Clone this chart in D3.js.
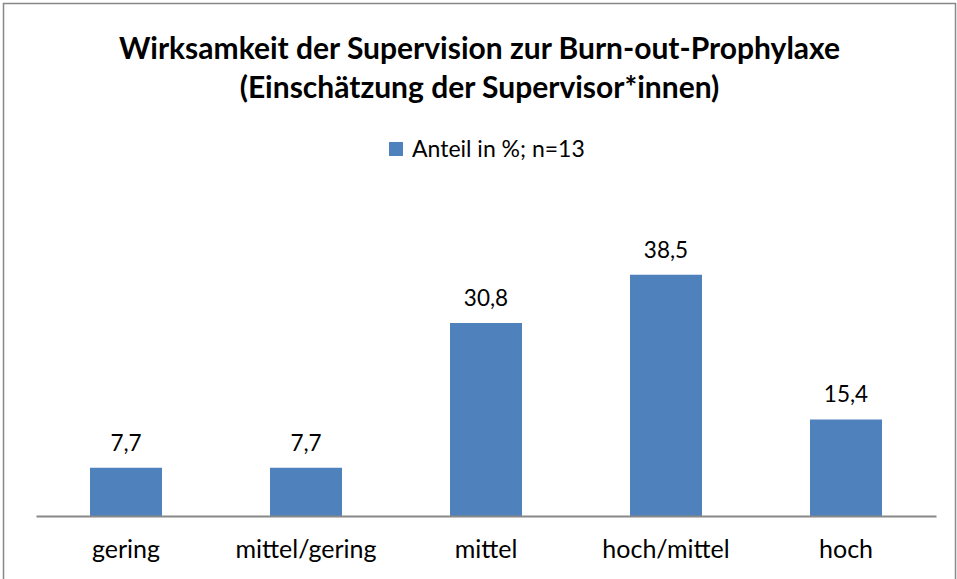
<!DOCTYPE html>
<html>
<head>
<meta charset="utf-8">
<script src="https://cdn.jsdelivr.net/npm/d3@7"></script>
<style>
  body { margin: 0; background: #fff; }
  text { font-family: Lato, "Open Sans", sans-serif; fill: #000; }
</style>
</head>
<body>
<svg id="chart"></svg>
<script>
var categories = ["gering", "mittel/gering", "mittel", "hoch/mittel", "hoch"];
var values = [7.7, 7.7, 30.8, 38.5, 15.4];
var seriesName = "Anteil in %; n=13";
var titleLines = ["Wirksamkeit der Supervision zur Burn-out-Prophylaxe",
                  "(Einschätzung der Supervisor*innen)"];

var width = 957, height = 579;
var barColor = "#4F81BD";

var svg = d3.select('#chart')
    .attr('width', width)
    .attr('height', height);

// chart frame
svg.append("rect")
    .attr("x", 3.5).attr("y", 3.5)
    .attr("width", width - 5).attr("height", height)
    .attr("fill", "none")
    .attr("stroke", "#888")
    .attr("stroke-width", 1.5);

var x = d3.scaleBand()
    .domain(categories)
    .range([36, 936])
    .paddingInner(0.6)
    .paddingOuter(0.3);

var y = d3.scaleLinear()
    .domain([0, 45])
    .range([516, 234]);

// title
svg.selectAll(".title")
    .data(titleLines)
  .enter().append("text")
    .attr("class", "title")
    .attr("x", width / 2 + 1)
    .attr("y", (d, i) => 59 + i * 39)
    .attr("text-anchor", "middle")
    .attr("font-size", "30px")
    .attr("font-weight", "bold")
    .text(d => d);

// legend
var legend = svg.append("g").attr("transform", "translate(389,142)");
legend.append("rect")
    .attr("width", 14).attr("height", 14)
    .attr("fill", barColor);
legend.append("text")
    .attr("x", 23).attr("y", 15)
    .attr("font-size", "23px")
    .text(seriesName);

// bars
svg.selectAll(".bar")
    .data(values)
  .enter().append("rect")
    .attr("class", "bar")
    .attr("x", (d, i) => x(categories[i]))
    .attr("y", d => y(d))
    .attr("width", x.bandwidth())
    .attr("height", d => y(0) - y(d))
    .attr("fill", barColor);

// value labels
svg.selectAll(".val")
    .data(values)
  .enter().append("text")
    .attr("class", "val")
    .attr("x", (d, i) => x(categories[i]) + x.bandwidth() / 2)
    .attr("y", d => y(d) - 17)
    .attr("text-anchor", "middle")
    .attr("font-size", "22.5px")
    .text(d => d.toFixed(1).replace(".", ","));

// x axis
var xAxis = svg.append("g")
    .attr("transform", "translate(0," + y(0) + ")")
    .call(d3.axisBottom(x).tickSize(0).tickPadding(24));
xAxis.select(".domain").attr("stroke", "#888").attr("stroke-width", 2);
xAxis.selectAll("text")
    .attr("font-size", "25px")
    .attr("font-family", "Lato, 'Open Sans', sans-serif")
    .attr("fill", "#000");
</script>
</body>
</html>
